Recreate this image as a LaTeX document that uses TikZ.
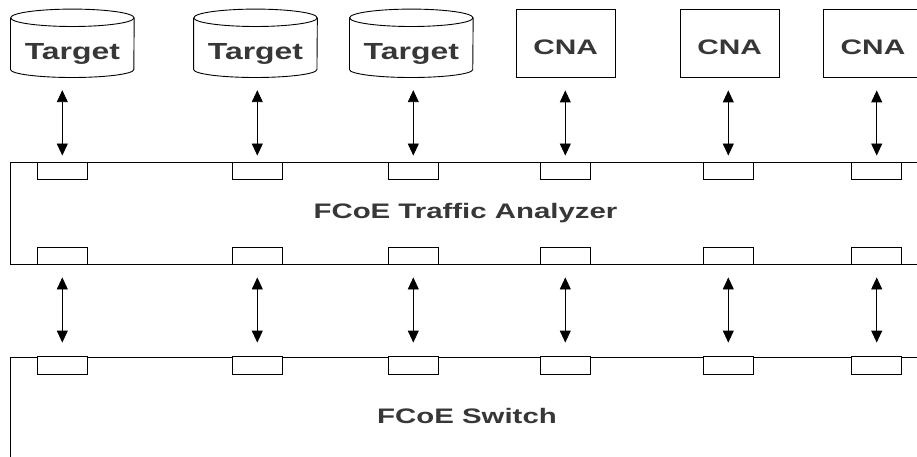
\documentclass[tikz,border=0pt]{standalone}
\usepackage{fontspec}
\usepackage{graphicx}
\setmainfont{Liberation Sans}
\usetikzlibrary{arrows.meta}
\definecolor{txt}{RGB}{55,55,55}
\newcommand{\wide}[2]{\scalebox{#1}[1]{#2}}
\begin{document}
\begin{tikzpicture}[x=1pt,y=-1pt,
  ln/.style={draw=black, line width=0.9pt},
  port/.style={ln, fill=white, minimum width=50pt, inner sep=0pt},
  cna/.style={ln, minimum width=99.3pt, minimum height=68pt, inner sep=0pt,
    text height=22pt, text depth=0pt, font=\fontsize{21}{21}\selectfont\bfseries, text=txt},
  tgt/.style={minimum width=123.3pt, minimum height=68pt, inner sep=0pt,
    text height=32pt, text depth=0pt, font=\fontsize{23.3}{23.3}\selectfont\bfseries, text=txt},
  lbl/.style={inner sep=0pt, anchor=base, font=\fontsize{21}{21}\selectfont\bfseries, text=txt},
  bi/.style={line width=0.9pt, {Triangle[length=12pt,width=11pt]}-{Triangle[length=12pt,width=11pt]}}
]
\useasboundingbox (0,0) rectangle (917,457);

% devices
\node[tgt] (t1) at (72.35,43.3) {\wide{1.37}{Target}};
\node[tgt] (t2) at (255.5,43.3) {\wide{1.37}{Target}};
\node[tgt] (t3) at (411.3,43.3) {\wide{1.37}{Target}};
\node[cna] (c1) at (565.7,43.3) {\wide{1.42}{CNA}};
\node[cna] (c2) at (729.7,43.3) {\wide{1.42}{CNA}};
\node[cna] (c3) at (873,43.3) {\wide{1.42}{CNA}};

\foreach \n in {t1,t2,t3}{
  \draw[ln] ([yshift=-8.7pt]\n.north) ellipse[x radius=61.65pt, y radius=8.7pt];
  \draw[ln] ([yshift=-8.7pt]\n.north west) -- ([yshift=8pt]\n.south west)
    arc[start angle=180, end angle=360, x radius=61.65pt, y radius=8pt]
    -- ([yshift=-8.7pt]\n.north east);
}

% frames
\draw[ln] (935,162.3) -- (10.7,162.3) -- (10.7,264.3) -- (935,264.3);
\draw[ln] (935,357.2) -- (10.7,357.2) -- (10.7,470);

\node[lbl] (an) at (465.5,218.3) {\wide{1.4}{FCoE Traffic Analyzer}};
\node[lbl] (sw) at (467,423.3) {\wide{1.4}{FCoE Switch}};

% ports
\foreach \i/\x in {1/62.3,2/257.3,3/413.3,4/565.3,5/728.3,6/876.7}{
  \node[port, minimum height=16.7pt] (pa\i) at (\x,170.65) {};
  \node[port, minimum height=16.6pt] (pb\i) at (\x,256) {};
  \node[port, minimum height=17.3pt] (ps\i) at (\x,365.35) {};
}

% connectors
\foreach \i/\t in {1/t1,2/t2,3/t3,4/c1,5/c2,6/c3}{
  \draw[bi, shorten <=12.7pt, shorten >=6.3pt] (pa\i.north |- \t.south) -- (pa\i.north);
  \draw[bi, shorten <=12.7pt, shorten >=13.7pt] (pb\i.south) -- (ps\i.north);
}
\end{tikzpicture}
\end{document}
